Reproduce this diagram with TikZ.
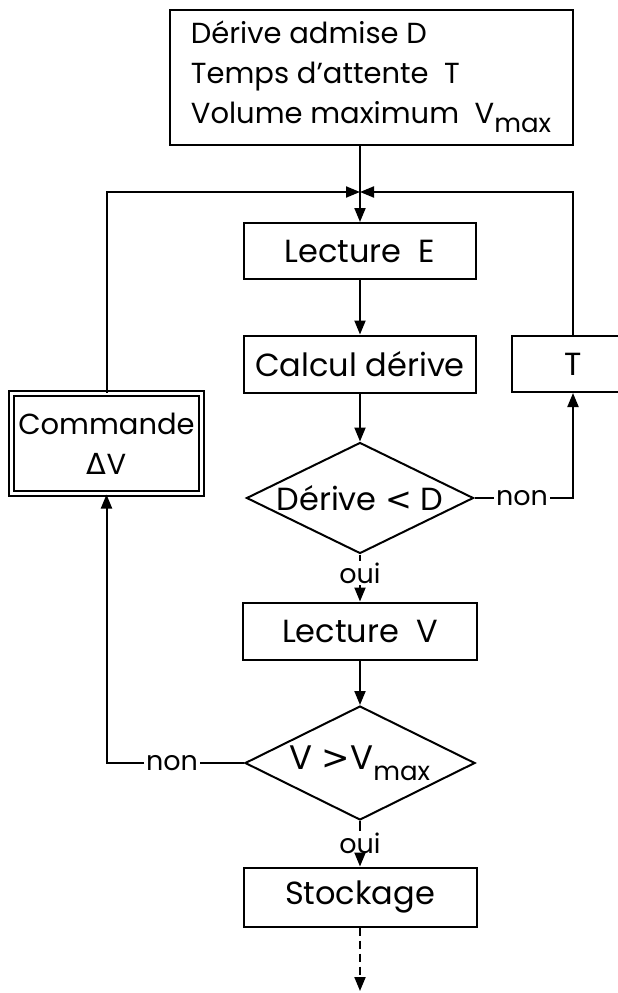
\documentclass[tikz,border=0pt]{standalone}
\usepackage{fontspec}
\setmainfont{Poppins}
\newfontfamily\grk{DejaVu Sans}
\usetikzlibrary{shapes.geometric,arrows.meta}
\newcommand\lowsub[1]{\raisebox{-0.32em}{\fontsize{26}{26}\selectfont #1}}
\begin{document}
\begin{tikzpicture}[x=1pt,y=-1pt,
  line width=2pt,
  box/.style={draw, rectangle, inner sep=0pt, font=\fontsize{32}{38}\selectfont},
  dec/.style={draw, diamond, aspect=2, inner sep=0pt, font=\fontsize{32}{38}\selectfont},
  lbl/.style={inner sep=1pt, font=\fontsize{27}{30}\selectfont},
  arr/.style={-{Triangle[length=14pt,width=11pt]}},
]
\clip (0,0) rectangle (618,993);
\fill[white] (0,0) rectangle (618,993);

\node[box, minimum width=403pt, minimum height=135pt, align=left,
      font=\fontsize{29}{40}\selectfont] (top) at (371,77)
  {Dérive admise D\\Temps d’attente \ T\\Volume maximum \ V\lowsub{max}};

\node[box, minimum width=232pt, minimum height=56pt] (lectE) at (360,251) {Lecture \ E};
\node[box, minimum width=232pt, minimum height=57pt] (calc) at (360,364) {Calcul dérive};
\node[box, minimum width=122pt, minimum height=56pt] (T) at (573,364) {T};
\node[box, double, double distance=3pt, minimum width=190pt, minimum height=100pt,
      align=center, font=\fontsize{29}{40}\selectfont] (cmd) at (106.5,443.5)
  {Commande\\{\grk Δ}V};
\node[dec, minimum width=227pt, minimum height=111pt] (d1) at (360,498) {Dérive {\grk <} D};
\node[lbl] (n1) at (522,498) {non};
\node[lbl] (o1) at (360,573) {oui};
\node[box, minimum width=234pt, minimum height=57pt] (lectV) at (360,631) {Lecture \ V};
\node[dec, minimum width=230pt, minimum height=114pt, font=\fontsize{34}{38}\selectfont] (d2) at (360,763) {V {\grk >}V\lowsub{max}};
\node[lbl] (n2) at (172,763) {non};
\node[lbl] (o2) at (360,843) {oui};
\node[box, minimum width=233pt, minimum height=59pt] (stock) at (360,897) {Stockage};

\coordinate (J) at (360,192);
\coordinate (E) at (360,991);

\draw (top.south -| J) -- (J);
\draw[arr] (J) -- (lectE);
\draw[arr] (cmd.north) |- (J);
\draw[arr] (T.north) |- (J);
\draw[arr] (lectE) -- (calc);
\draw[arr] (calc) -- (d1);
\draw (d1.east) -- (n1.west);
\draw[arr] (n1.east) -| (T.south);
\draw (d1.south) -- (o1.north);
\draw[arr] (o1.south) -- (lectV.north);
\draw[arr] (lectV) -- (d2);
\draw (d2.west) -- (n2.east);
\draw[arr] (n2.west) -| (cmd.south);
\draw (d2.south) -- (o2.north);
\draw[arr] (o2.south) -- (stock.north);
\draw[arr, dash pattern=on 8pt off 5pt] (stock.south) -- (E);
\end{tikzpicture}
\end{document}
